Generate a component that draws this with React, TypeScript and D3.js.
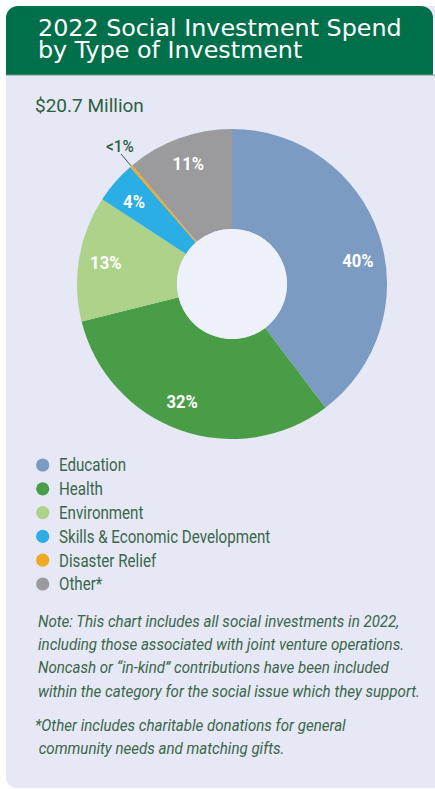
import React from "react";
import * as d3 from "d3";

const categories = [
  "Education",
  "Health",
  "Environment",
  "Skills & Economic Development",
  "Disaster Relief",
  "Other*",
];
const shares = [39.7, 31.4, 13.1, 4.4, 0.3, 11.1];
const sliceLabels = ["40%", "32%", "13%", "4%", "<1%", "11%"];
const colors = ["#7B9BC3", "#4A9D47", "#ADD38B", "#2BAEE4", "#F0A922", "#9B9B9D"];
const titleLines = ["2022 Social Investment Spend", "by Type of Investment"];
const totalLabel = "$20.7 Million";
const noteLines = [
  "Note: This chart includes all social investments in 2022,",
  "including those associated with joint venture operations.",
  "Noncash or \u201cin-kind\u201d contributions have been included",
  "within the category for the social issue which they support.",
];
const footLines = [
  "*Other includes charitable donations for general",
  " community needs and matching gifts.",
];

const W = 435;
const H = 789;
const GREEN = "#00704A";
const CARD = "#E6E8F6";
const TEXT_GREEN = "#3A6649";
const SANS = "Roboto, sans-serif";

export default function App() {
  const cx = 232;
  const cy = 284;
  const R = 155;
  const r0 = 55;

  const pie = d3
    .pie<number>()
    .sort(null)
    .value((d) => d)
    .startAngle(0)
    .endAngle(2 * Math.PI);
  const arcs = pie(shares);
  const arc = d3.arc<d3.PieArcDatum<number>>().innerRadius(r0).outerRadius(R);

  // label nudges (degrees) for the larger slices
  const nudge = [8, 3.5, 0, -1, 0, 0];
  const labelR = 128;
  const polar = (a: number, rr: number) => [rr * Math.sin(a), -rr * Math.cos(a)];

  const legendY = d3.scaleLinear().domain([0, categories.length - 1]).range([465, 584]);
  const condensed = 0.84;
  const noteK = 0.915;

  return (
    <svg
      width={W}
      height={H}
      style={{ position: "absolute", left: 0, top: 0, display: "block" }}
    >
      <rect x={0} y={0} width={W} height={H} fill="#FFFFFF" />
      <rect x={6} y={6} width={440} height={782} rx={11} fill={CARD} />
      <path
        d={`M6,75 V18 A12,12 0 0 1 18,6 H421 A12,12 0 0 1 433,18 V75 Z`}
        fill={GREEN}
      />
      <rect x={433} y={18} width={2} height={57} fill="#FFFFFF" />
      <rect x={6} y={74.5} width={429} height={1} fill="#5E9E80" />
      {titleLines.map((t, i) => (
        <text
          key={i}
          x={38}
          y={36 + i * 22}
          fill="#FFFFFF"
          fontFamily="'DejaVu Sans', 'Open Sans', sans-serif"
          fontSize={23.8}
        >
          {t}
        </text>
      ))}

      <text x={35} y={112} fill="#2F5E3F" fontFamily={SANS} fontSize={19}>
        {totalLabel}
      </text>

      <g transform={`translate(${cx},${cy})`}>
        {arcs.map((a, i) => (
          <path key={i} d={arc(a) || ""} fill={colors[i]} />
        ))}
        <circle r={r0} fill="#EEF1FA" />
        {arcs.map((a, i) => {
          if (shares[i] < 1) {
            const mid = (a.startAngle + a.endAngle) / 2;
            const [x1, y1] = polar(mid, R);
            const [x2, y2] = polar(mid, R + 16);
            return (
              <g key={i}>
                <line x1={x1} y1={y1} x2={x2} y2={y2} stroke="#2F5E3F" strokeWidth={1} />
                <text
                  transform={`translate(${x2 - 1},${y2 - 2}) scale(0.9,1)`}
                  textAnchor="middle"
                  fill="#2F5E3F"
                  fontFamily={SANS}
                  fontWeight={500}
                  fontSize={17}
                >
                  {sliceLabels[i]}
                </text>
              </g>
            );
          }
          const mid = (a.startAngle + a.endAngle) / 2 + (nudge[i] * Math.PI) / 180;
          const [x, y] = polar(mid, labelR);
          return (
            <text
              key={i}
              transform={`translate(${x},${y}) scale(0.95,1)`}
              dy="0.36em"
              textAnchor="middle"
              fill="#FFFFFF"
              fontFamily={SANS}
              fontWeight={700}
              fontSize={17.5}
            >
              {sliceLabels[i]}
            </text>
          );
        })}
      </g>

      {categories.map((c, i) => (
        <g key={c} transform={`translate(0,${legendY(i)})`}>
          <circle cx={42.7} cy={0} r={6.6} fill={colors[i]} />
          <text
            transform={`translate(59,0) scale(${condensed},1)`}
            dy="0.36em"
            fill={TEXT_GREEN}
            fontFamily={SANS}
            fontSize={18}
          >
            {c}
          </text>
        </g>
      ))}

      {noteLines.map((t, i) => (
        <text
          key={i}
          transform={`translate(38,${627 + i * 23.2}) scale(${noteK},1)`}
          fill={TEXT_GREEN}
          fontFamily={SANS}
          fontStyle="italic"
          fontSize={16.5}
        >
          {t}
        </text>
      ))}
      {footLines.map((t, i) => (
        <text
          key={i}
          transform={`translate(35,${731 + i * 23}) scale(${noteK},1)`}
          fill={TEXT_GREEN}
          fontFamily={SANS}
          fontStyle="italic"
          fontSize={16.5}
          style={{ whiteSpace: "pre" }}
        >
          {t}
        </text>
      ))}
    </svg>
  );
}
